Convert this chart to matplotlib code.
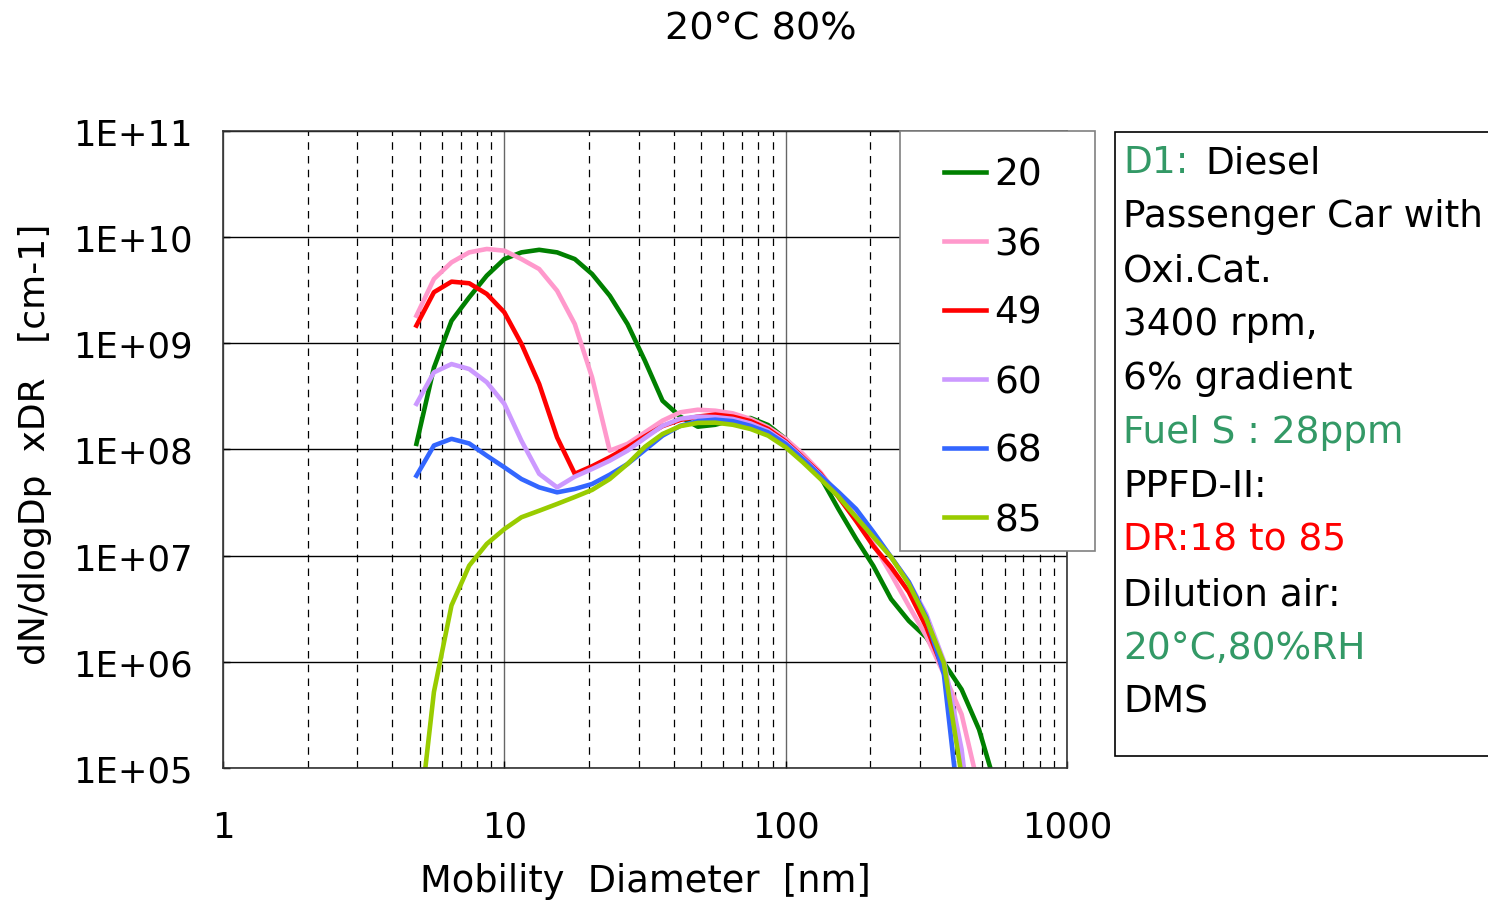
import matplotlib
matplotlib.use("Agg")
import matplotlib.pyplot as plt
from matplotlib.patches import Rectangle
from matplotlib.ticker import NullFormatter, LogLocator

# DMS channel mid-point diameters [nm]
diam = [4.87, 5.62, 6.49, 7.50, 8.66, 10.0, 11.5, 13.3, 15.4, 17.8, 20.5, 23.7,
        27.4, 31.6, 36.5, 42.2, 48.7, 56.2, 64.9, 75.0, 86.6, 100, 115, 133,
        154, 178, 205, 237, 274, 316, 365, 422, 487, 562]

dr20 = [1.13e8, 5.9e8, 1.63e9, 2.71e9, 4.34e9, 6.22e9, 7.19e9, 7.60e9, 7.19e9, 6.22e9,
        4.50e9, 2.81e9, 1.52e9, 6.85e8, 2.88e8, 2.04e8, 1.64e8, 1.71e8, 1.90e8, 1.98e8,
        1.70e8, 1.26e8, 8.5e7, 5.5e7, 2.75e7, 1.44e7, 8.0e6, 3.9e6, 2.43e6, 1.70e6,
        9.8e5, 5.5e5, 2.3e5, 6.3e4]
dr36 = [1.82e9, 4.04e9, 5.79e9, 7.19e9, 7.74e9, 7.46e9, 6.22e9, 5.01e9, 3.13e9, 1.52e9,
        4.79e8, 9.75e7, 1.13e8, 1.45e8, 1.87e8, 2.24e8, 2.37e8, 2.32e8, 2.19e8, 1.94e8,
        1.62e8, 1.26e8, 9.1e7, 6.1e7, 3.65e7, 2.31e7, 1.29e7, 6.7e6, 3.36e6, 1.75e6,
        7.7e5, 3.2e5, 6.3e4]
dr49 = [1.47e9, 3.03e9, 3.81e9, 3.68e9, 2.92e9, 1.96e9, 9.9e8, 4.14e8, 1.30e8, 5.9e7,
        6.95e7, 8.45e7, 1.05e8, 1.33e8, 1.66e8, 1.90e8, 2.04e8, 2.13e8, 2.04e8, 1.85e8,
        1.56e8, 1.19e8, 8.45e7, 5.9e7, 3.57e7, 2.12e7, 1.23e7, 7.8e6, 4.55e6, 2.13e6,
        8.2e5, 1.27e5, 1.0e4]
dr60 = [2.69e8, 5.33e8, 6.38e8, 5.73e8, 4.30e8, 2.69e8, 1.21e8, 5.9e7, 4.4e7, 5.55e7,
        6.55e7, 7.85e7, 9.75e7, 1.28e8, 1.67e8, 1.95e8, 2.04e8, 2.02e8, 1.94e8, 1.76e8,
        1.50e8, 1.16e8, 8.3e7, 5.75e7, 3.81e7, 2.52e7, 1.57e7, 9.7e6, 5.65e6, 2.82e6,
        1.02e6, 1.5e5, 6.3e3]
dr68 = [5.66e7, 1.09e8, 1.26e8, 1.14e8, 8.75e7, 6.8e7, 5.27e7, 4.4e7, 3.95e7, 4.25e7,
        4.73e7, 5.79e7, 7.3e7, 9.9e7, 1.35e8, 1.67e8, 1.85e8, 1.91e8, 1.85e8, 1.67e8,
        1.45e8, 1.13e8, 8.15e7, 5.66e7, 3.98e7, 2.75e7, 1.67e7, 9.7e6, 5.65e6, 2.64e6,
        7.65e5, 2.5e4]
dr85 = [1.8e4, 5.2e5, 3.4e6, 8.05e6, 1.29e7, 1.78e7, 2.30e7, 2.65e7, 3.07e7, 3.57e7,
        4.16e7, 5.27e7, 7.3e7, 1.06e8, 1.40e8, 1.66e8, 1.78e8, 1.79e8, 1.71e8, 1.56e8,
        1.35e8, 1.05e8, 7.6e7, 5.27e7, 3.61e7, 2.31e7, 1.50e7, 9.7e6, 5.4e6, 2.54e6,
        9.75e5, 8.5e4, 3.2e3]

series = [("20", dr20, "#008000"), ("36", dr36, "#ff99cc"), ("49", dr49, "#ff0000"),
          ("60", dr60, "#cc99ff"), ("68", dr68, "#3366ff"), ("85", dr85, "#99cc00")]

yticks = [1e5, 1e6, 1e7, 1e8, 1e9, 1e10, 1e11]
ylabels = ["1E+05", "1E+06", "1E+07", "1E+08", "1E+09", "1E+10", "1E+11"]
xticks = [1, 10, 100, 1000]
xlabels = ["1", "10", "100", "1000"]

W, H = 1488, 904
fig = plt.figure(figsize=(W / 100, H / 100), dpi=100)
ax = fig.add_axes([223 / W, 1 - 769 / H, (1067 - 223) / W, (769 - 132) / H])

for name, vals, col in series:
    ax.plot(diam[:len(vals)], vals, color=col, lw=3.3, label=name)

ax.set_xscale("log")
ax.set_yscale("log")
ax.set_xlim(1, 1000)
ax.set_ylim(1e5, 1e11)

ax.set_yticks(yticks, ylabels)
ax.set_xticks(xticks, xlabels)
ax.xaxis.set_minor_locator(LogLocator(base=10, subs=range(2, 10)))
ax.xaxis.set_minor_formatter(NullFormatter())
ax.yaxis.set_minor_locator(plt.NullLocator())
ax.tick_params(axis="both", which="major", direction="in", length=5, labelsize=25.5, width=1)
ax.tick_params(axis="x", which="major", pad=30)
ax.tick_params(axis="y", which="major", pad=22)
ax.tick_params(axis="x", which="minor", length=0)

ax.grid(True, axis="y", which="major", color="black", lw=1)
ax.grid(True, axis="x", which="major", color="#666666", lw=1)
ax.grid(True, axis="x", which="minor", color="black", lw=0.9, ls=(0, (6, 5)))
ax.set_axisbelow(True)
for sp in ax.spines.values():
    sp.set_color("#333333")
    sp.set_linewidth(1.2)

ax.set_xlabel("Mobility  Diameter  [nm]", fontsize=26.5)
ax.xaxis.set_label_coords(0.5, -0.148)
ax.set_ylabel("dN/dlogDp  xDR   [cm-1]", fontsize=26)
ax.yaxis.set_label_coords(-0.203, 0.509)

fig.text(761 / W, 1 - 30 / H, "20°C 80%", ha="center", va="center", fontsize=27.5)

# legend with its own frame
fig.patches.append(Rectangle((900 / W, 1 - 552 / H), 195 / W, 420 / H,
                             transform=fig.transFigure, facecolor="white",
                             edgecolor="#808080", lw=1.2, zorder=3))
leg = fig.legend(loc="upper left", bbox_to_anchor=(944 / W, 1 - 158 / H),
                 frameon=False, fontsize=27, handlelength=1.12, handletextpad=0.22,
                 labelspacing=0.88, borderpad=0, borderaxespad=0)
leg.set_zorder(4)

# description box
fig.patches.append(Rectangle((1115 / W, 1 - 757 / H), 380 / W, 624 / H,
                             transform=fig.transFigure, facecolor="white",
                             edgecolor="black", lw=1.2))
green = "#339966"
lines = [("Passenger Car with", "black"), ("Oxi.Cat.", "black"),
         ("3400 rpm,", "black"), ("6% gradient", "black"),
         ("Fuel S : 28ppm", green), ("PPFD-II:", "black"),
         ("DR:18 to 85", "#ff0000"), ("Dilution air:", "black"),
         ("20°C,80%RH", green), ("DMS", "black")]
tx = 1123 / W
fs = 27
fig.text(tx, 1 - 163 / H, "D1:", color=green, fontsize=fs, va="center", ha="left")
fig.text(1205 / W, 1 - 163 / H, "Diesel", color="black", fontsize=fs, va="center", ha="left")
for i, (s, c) in enumerate(lines):
    fig.text(tx, 1 - (217 + 54 * i) / H, s, color=c, fontsize=fs, va="center", ha="left")

fig.savefig("out.png", dpi=100)
